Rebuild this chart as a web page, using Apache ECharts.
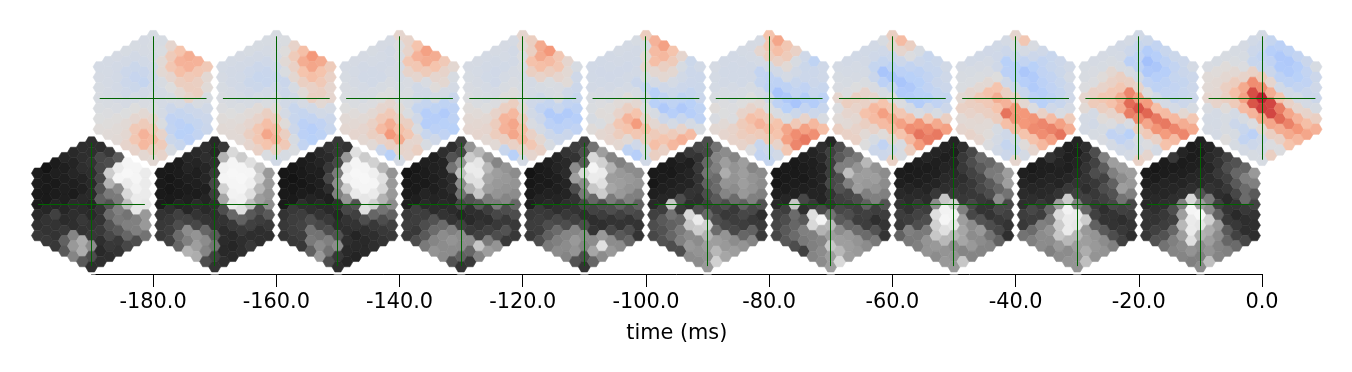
<!DOCTYPE html>
<html><head><meta charset="utf-8">
<style>html,body{margin:0;padding:0;background:#fff}#c{width:1352px;height:372px}</style>
<script src="https://cdn.jsdelivr.net/npm/echarts@6/dist/echarts.min.js"></script>
</head><body><div id="c"></div>
<script>
// Each map: 13 lattice columns, left to right, each top to bottom.
// Top row values: coolwarm scale, -100..100
const top1=[[-8,-7,-6,-5,-3,-1,2],[-8,-8,-8,-7,-5,-2,1,3],[-7,-9,-9,-9,-7,-4,1,3,4],[-6,-9,-14,-14,-12,-7,-1,4,6,9],[-6,-9,-15,-19,-15,-8,0,7,20,22,10],[-7,-7,-10,-16,-20,-10,-4,5,18,35,32,6],[-6,-6,-7,-10,-12,-10,-6,-3,8,20,30,15,5],[-6,-3,4,5,-5,-8,-8,-8,-3,10,18,10],[8,18,22,8,0,-6,-14,-24,-22,-15,-5],[25,35,28,15,5,-7,-20,-28,-30,-18],[38,35,20,15,10,-14,-20,-30,-28],[35,22,14,15,-5,-14,-20,-22],[20,5,3,-5,-10,-14,-16]];
const top2=[[-8,-7,-6,-4,-2,2,4],[-8,-9,-9,-7,-5,0,3,4],[-7,-9,-10,-10,-8,-3,2,5,4],[-6,-9,-13,-15,-11,-6,3,8,14,8],[-6,-9,-14,-18,-15,-8,3,10,22,22,12],[-6,-8,-12,-17,-18,-10,-3,14,28,42,25,-3],[-5,-5,-7,-12,-17,-12,-6,3,16,30,35,12,-10],[-3,1,4,-3,-16,-14,-10,-8,2,14,20,-6],[10,18,12,6,-6,-10,-18,-18,-14,-6,-3],[28,38,25,14,3,-7,-20,-28,-28,-22],[50,42,28,12,14,-10,-22,-32,-30],[40,25,20,14,5,-10,-24,-27],[18,12,8,8,-8,-14,-18]];
const top3=[[-7,-6,-4,-3,0,4,6],[-7,-8,-7,-5,-3,2,5,8],[-7,-9,-10,-8,-6,-2,4,8,6],[-6,-8,-10,-10,-6,-2,5,12,14,4],[-7,-8,-9,-10,-6,0,8,20,30,12,-16],[-7,-9,-9,-8,-5,-1,8,20,38,50,14,-30],[8,-2,-4,-7,-8,-6,-3,4,14,28,40,10,-8],[10,10,22,10,-4,-3,-6,-3,14,22,8,8],[25,35,22,8,-10,-10,-20,-12,-4,8,14],[45,38,18,-4,-10,-20,-33,-33,-18,-5],[38,25,8,2,-8,-25,-33,-28,-12],[20,10,6,-8,-25,-36,-30,-24],[6,-5,-8,-16,-26,-26,-30]];
const top4=[[-7,-6,-4,-2,2,5,7],[-7,-8,-7,-5,-3,3,6,8],[-8,-9,-10,-8,-6,-1,5,8,5],[-7,-9,-11,-11,-7,-2,10,16,16,4],[-7,-8,-10,-8,-5,1,14,34,35,14,-18],[-7,-9,-9,-7,-4,1,15,32,42,42,12,-30],[8,4,-2,-4,-7,-6,-3,4,16,28,32,10,-8],[15,14,26,14,-8,-8,-12,-10,-4,12,22,8],[40,40,28,10,-6,-12,-22,-14,-8,6,12],[50,30,15,-3,-6,-20,-36,-28,-14,-5],[22,22,8,-4,-4,-18,-36,-28,-14],[8,5,3,-12,-22,-36,-28,-16],[-6,-12,-14,-18,-26,-32,-24]];
const top5=[[-10,-10,-9,-5,-3,-6,2],[-10,-11,-10,-7,-2,2,-3,6],[-9,-10,-11,-9,-6,1,2,8,8],[-8,-9,-11,-10,-6,3,10,22,16,6],[-8,-9,-11,-9,-8,2,14,34,25,4,-25],[-6,-9,-10,-9,-16,-6,6,25,48,22,-12,-32],[16,-6,4,8,-5,-20,-10,-2,10,28,15,-5,-10],[35,30,28,6,-8,-30,-30,-6,6,18,28,14],[45,32,14,6,-12,-24,-38,-14,10,24,12],[25,18,6,-8,-15,-25,-32,-8,18,32],[8,-6,-10,-14,-25,-38,-18,10,36],[-15,-14,-14,-20,-30,-32,-8,30],[-10,-14,-15,-16,-25,-26,-5]];
const top6=[[-7,-8,-8,-5,2,-4,5],[-9,-10,-9,-6,-2,-1,4,8],[-9,-10,-10,-8,-6,-2,-2,10,10],[-8,-9,-10,-10,-6,0,10,18,16,10],[-7,-8,-10,-10,-6,0,10,28,22,14,-2],[-7,8,-8,-22,-20,-8,4,22,35,18,-18,-22],[25,22,16,-10,-24,-26,-12,-2,18,30,20,-14,-20],[42,28,12,-10,-26,-42,-26,-4,25,25,10,-10],[22,18,4,-8,-26,-38,-30,-5,42,45,22],[12,-5,-10,-18,-22,-42,-15,20,55,58],[-12,-15,-14,-24,-34,-22,10,45,64],[-25,-14,-14,-18,-34,-14,32,54],[-12,-12,-18,-26,-18,-5,28]];
const top7=[[-8,-6,-4,8,-2,3,14],[-9,-8,-6,-2,15,8,4,12],[-10,-8,-7,-1,14,10,6,10,12],[-10,-9,-8,-3,10,12,26,14,4,0],[-9,-12,-20,-16,-4,8,32,30,10,-6,-14],[-5,-12,-20,-42,-28,-6,25,46,30,2,-24,-14],[14,6,-14,-26,-40,-20,-2,22,40,30,6,-12,12],[30,8,-14,-28,-42,-36,-2,22,45,25,-5,-5],[14,-2,-22,-30,-38,-34,-8,28,55,32,16],[-6,-14,-26,-30,-30,-34,-4,52,66,48],[-18,-18,-22,-24,-30,-12,22,56,62],[-15,-18,-16,-20,-24,-5,40,64],[-10,-12,-14,-20,-14,14,45]];
const top8=[[-7,-5,-3,5,12,4,8],[-9,-6,-3,8,14,10,5,10],[-10,-7,-3,5,20,14,6,4,8],[-11,-8,-4,5,26,20,14,4,2,-2],[-10,-12,-12,0,25,38,25,16,-6,-8,-10],[-8,-14,-30,-28,-12,14,35,66,28,-12,-20,-14],[8,-5,-16,-30,-30,-14,12,50,52,30,-10,-18,8],[22,-8,-22,-40,-32,-18,6,50,50,25,2,-8],[-4,-14,-30,-36,-36,-28,-2,52,56,26,8],[-12,-22,-24,-28,-32,-30,12,58,55,32],[-18,-18,-22,-24,-26,-12,30,60,45],[-14,-15,-18,-20,-18,-4,45,66],[-10,-8,-12,-12,-8,18,38]];
const top9=[[-6,-5,-2,8,4,-8,-8],[-7,-4,-2,12,18,-8,-10,-6],[-7,-6,2,10,22,15,2,-6,-4],[-8,-5,6,12,22,26,10,-2,-24,-8],[-9,-8,-5,14,22,38,38,8,-15,-24,-10],[-8,-14,-28,-6,14,58,70,62,-4,-30,-16,-8],[-10,-18,-24,-26,-10,10,45,78,56,15,-6,-8,12],[-15,-34,-46,-38,-24,-2,48,72,42,20,-2,8],[-22,-32,-40,-32,-26,-10,28,64,52,12,-8],[-18,-26,-32,-26,-22,-8,30,64,48,26],[-15,-22,-20,-22,-20,-8,32,58,30],[-14,-16,-20,-18,-14,6,38,58],[-8,-14,-14,-14,-6,22,40]];
const top10=[[-4,3,4,8,-4,-8,-7],[-6,2,5,6,10,-8,-8,-8],[-5,2,6,14,14,2,-6,-5,1],[-6,-3,5,16,28,18,-8,-14,-6,-6],[-7,-6,-2,10,40,45,30,-6,-18,-22,-8],[-10,-14,-18,12,55,80,78,34,-2,-28,-14,-6],[-8,-14,-22,-18,18,55,92,84,42,6,-12,-8,-6],[-20,-32,-24,-16,8,38,82,82,42,14,-2,14],[-28,-38,-36,-26,-10,24,62,70,38,12,-2],[-26,-38,-36,-26,-10,12,42,60,40,25],[-22,-32,-30,-22,-8,8,34,50,32],[-16,-22,-24,-16,-8,10,28,42],[-6,-14,-12,-14,-6,14,36]];
// Bottom row values: brightness, 0..100
const bot1=[[11,11,10,11,16,19,22],[8,10,10,10,15,20,20,22],[11,12,10,11,14,25,20,20,22],[15,12,12,12,12,15,17,22,38,35],[16,14,15,12,11,17,18,18,52,60,52],[18,18,18,14,13,16,17,22,20,68,68,35],[18,18,20,18,16,16,14,16,20,22,55,30,18],[18,28,28,28,32,38,20,20,22,18,16,18],[22,30,80,70,48,32,42,32,28,22,18],[36,92,96,55,48,50,48,35,22,20],[96,97,92,85,75,45,50,40,28],[96,96,95,92,90,50,50,30],[92,92,92,90,60,60,45]];
const bot2=[[10,10,10,11,20,22,22],[10,9,9,10,18,22,24,25],[11,11,10,10,14,25,30,42,40],[15,14,12,11,12,15,26,55,50,70],[16,14,12,12,11,17,20,28,58,62,68],[18,18,15,15,12,14,16,20,40,55,52,30],[16,15,18,22,28,24,18,18,20,35,45,25,20],[22,70,95,96,82,65,30,20,17,17,16,18],[85,96,97,96,95,92,40,22,16,15,16],[80,96,97,96,94,88,38,22,18,18],[88,96,94,88,75,35,25,18,22],[78,82,72,62,30,24,18,18],[60,60,58,55,35,22,18]];
const bot3=[[9,9,10,10,20,22,20],[9,8,9,10,22,24,24,22],[11,10,9,11,18,24,26,24,22],[12,12,11,10,14,18,30,45,48,38],[16,14,12,12,12,16,20,28,45,55,60],[20,17,22,28,18,12,16,22,30,50,45,30],[22,22,28,48,55,50,18,15,18,32,55,22,18],[20,60,92,95,80,58,28,20,18,18,16,15],[88,96,97,96,92,32,25,20,14,16,14],[80,96,97,96,90,88,30,18,16,16],[82,94,96,92,82,40,22,18,18],[72,88,85,70,45,30,22,20],[58,60,60,55,38,25,22]];
const bot4=[[8,9,10,12,22,24,22],[9,10,10,12,24,24,22,30],[12,11,10,14,16,24,30,35,48],[12,13,12,12,14,17,32,42,52,58],[18,14,14,14,14,16,20,42,55,55,55],[18,32,45,18,18,15,17,20,50,58,55,32],[25,28,58,75,55,45,28,15,25,55,55,38,20],[58,80,92,88,70,32,18,16,22,55,40,22],[72,90,92,88,78,35,18,20,25,78,52],[60,72,65,62,48,24,18,25,48,62],[52,62,60,58,48,28,22,30,58],[58,60,58,52,30,22,32,22],[55,58,55,40,30,22,22]];
const bot5=[[8,9,10,12,22,24,22],[10,10,11,14,22,24,24,30],[12,11,10,13,16,22,30,38,48],[14,14,12,12,14,18,28,42,50,55],[20,16,17,14,14,18,22,30,52,55,52],[24,20,55,62,30,20,20,25,52,60,58,32],[25,30,35,85,55,48,28,18,30,55,52,30,20],[45,85,96,92,78,40,26,18,20,55,65,40],[62,82,92,88,80,30,24,18,60,88,55],[52,70,62,65,48,30,20,28,55,60],[50,60,62,60,38,25,20,35,55],[55,60,58,50,30,20,30,40],[55,58,50,38,28,20,20]];
const bot6=[[10,9,12,16,25,30,28],[10,11,12,15,24,35,32,32],[11,10,12,14,78,45,38,40,30],[15,12,13,14,30,22,40,48,50,30],[22,12,14,14,20,18,85,78,55,60,55],[28,20,22,20,20,18,30,92,80,55,58,55],[30,28,40,45,38,30,25,40,82,70,62,58,60],[45,52,50,42,42,35,25,30,42,62,72,82],[55,62,68,58,52,30,22,28,58,60,65],[52,58,58,55,42,22,24,28,55,62],[62,62,62,60,38,28,24,40,58],[52,58,58,50,28,22,38,52],[55,55,50,32,18,22,22]];
const bot7=[[9,9,12,16,26,28,28],[10,10,11,15,24,30,35,35],[10,10,11,13,78,42,40,42,30],[12,11,10,12,28,18,35,50,48,25],[14,12,12,12,14,22,88,85,50,50,52],[18,16,14,14,14,14,28,96,70,52,55,55],[15,25,24,24,28,20,20,45,72,62,78,62,62],[30,35,50,30,32,25,28,35,55,62,72,85],[40,50,75,50,28,25,30,40,60,62,62],[48,58,62,62,30,24,24,42,58,60],[72,62,60,50,38,25,24,42,55],[58,62,58,50,24,18,32,48],[55,55,50,32,24,20,20]];
const bot8=[[11,12,16,20,24,22,38],[10,11,14,17,19,24,50,48],[12,11,12,16,22,26,30,48,50],[14,11,12,14,17,24,30,48,58,58],[14,12,12,14,22,55,88,82,78,60,55],[14,12,14,16,18,78,95,96,88,72,58,60],[14,12,14,16,18,22,82,95,90,72,55,58,60],[18,22,22,18,20,22,50,62,65,65,52,78],[28,30,26,22,22,28,28,55,55,60,52],[42,35,28,28,22,20,32,60,55,52],[40,48,35,30,20,20,30,45,52],[48,50,40,55,28,22,28,38],[62,62,45,28,25,20,18]];
const bot9=[[12,14,17,18,24,22,45],[10,12,15,18,28,24,42,50],[12,12,14,16,22,24,50,55,55],[20,12,14,16,18,40,48,58,55,50],[16,14,13,14,20,62,86,80,78,60,55],[12,12,12,15,22,80,95,92,92,72,55,58],[14,12,14,16,20,25,50,92,90,72,62,58,58],[18,18,20,20,18,25,40,80,60,62,68,75],[30,26,30,22,22,22,25,38,58,60,58],[50,36,26,30,25,18,20,35,55,58],[62,50,38,32,28,20,20,30,50],[62,55,62,45,25,18,22,25],[62,60,50,28,24,20,18]];
const bot10=[[10,12,15,16,20,20,22],[9,11,14,16,18,20,25,32],[11,11,14,15,18,22,24,32,45],[22,11,13,15,18,30,25,40,50,52],[14,11,12,14,18,50,62,72,62,55,52],[11,11,12,15,18,85,96,92,92,88,58,50],[13,11,12,15,16,32,62,97,90,70,55,50,55],[14,16,15,17,20,48,55,82,68,62,58,75],[18,20,22,18,18,25,38,60,55,52,52],[26,30,25,22,16,20,22,35,40,50],[32,40,35,28,20,16,22,26,42],[40,50,42,42,22,18,18,28],[60,50,35,26,20,18,18]];
const topMaps=[top1,top2,top3,top4,top5,top6,top7,top8,top9,top10];
const botMaps=[bot1,bot2,bot3,bot4,bot5,bot6,bot7,bot8,bot9,bot10];
const topTimes=[-180,-160,-140,-120,-100,-80,-60,-40,-20,0];
const botTimes=[-190,-170,-150,-130,-110,-90,-70,-50,-30,-10];
const tickValues=topTimes;
const axisName='time (ms)';

// lattice geometry in axis units (x: ms, y: one unit per pixel)
const PX=1170.5/190, STEP_X=9.0/PX, STEP_Y=10.4, RAD_X=6.05/PX, RAD_Y=5.95;
const LEVEL_TOP=176, LEVEL_BOT=69.6;
const CROSS_H=53.4/PX, CROSS_V=61.7;
const coolwarm=['#3b4cc0','#6282ea','#8db0fe','#b8d0f9','#dddddd','#f5c4ad','#f4987a','#de604d','#b40426'];
const grays=['#000000','#ffffff'];
const coolColor=v=>echarts.color.lerp(((v<0?v*0.8:v)+100)/200,coolwarm);
const grayColor=v=>echarts.color.lerp(v/100,grays);
const crisp=n=>Math.round(n-0.5)+0.5;

function flatten(maps,times,level){
  const out=[];
  maps.forEach((m,i)=>{
    if(m.length!==13) throw new Error('cols '+level+' '+i);
    m.forEach((col,c)=>{
      const k=c-6,n=13-Math.abs(k);
      if(col.length!==n) throw new Error('map level '+level+' idx '+i+' col '+c+' len '+col.length);
      col.forEach((v,j)=>out.push([times[i]+k*STEP_X, level+((n-1)/2-j)*STEP_Y, v]));
    });
  });
  return out;
}
function hexPts(api,x,y){
  const p=[];
  for(let a=0;a<6;a++){
    const t=a*Math.PI/3;
    p.push(api.coord([x+RAD_X*Math.cos(t),y+RAD_Y*Math.sin(t)]));
  }
  return p;
}
function cellSeries(data,fill,lw){
  return {type:'custom',coordinateSystem:'cartesian2d',clip:false,silent:true,data,
    encode:{x:0,y:1},
    renderItem(params,api){
      const v=api.value(2),c=fill(v);
      return {type:'polygon',shape:{points:hexPts(api,api.value(0),api.value(1))},
        style:{fill:c,stroke:c,lineWidth:lw,lineJoin:'round'}};
    }};
}
function crossSeries(times,level){
  return {type:'custom',coordinateSystem:'cartesian2d',clip:false,silent:true,
    data:times.map(t=>[t,level]),encode:{x:0,y:1},
    renderItem(params,api){
      const x=api.value(0),y=api.value(1);
      const a=api.coord([x-CROSS_H,y]),b=api.coord([x+CROSS_H,y]);
      const c=api.coord([x,y+CROSS_V]),d=api.coord([x,y-CROSS_V]);
      const st={stroke:'#006400',lineWidth:1,fill:null};
      return {type:'group',children:[
        {type:'line',shape:{x1:a[0],y1:crisp(a[1]),x2:b[0],y2:crisp(b[1])},style:st},
        {type:'line',shape:{x1:crisp(c[0]),y1:c[1],x2:crisp(d[0]),y2:d[1]},style:st}]};
    }};
}
const topData=flatten(topMaps,topTimes,LEVEL_TOP);
const botData=flatten(botMaps,botTimes,LEVEL_BOT);
const chart=echarts.init(document.getElementById('c'),null,{renderer:'canvas'});
chart.setOption({
  animation:false,backgroundColor:'#ffffff',
  grid:{left:91.5,right:90,top:0,bottom:98},
  xAxis:{type:'value',min:-190,max:0,splitLine:{show:false},
    name:axisName,nameLocation:'middle',nameGap:49,
    nameTextStyle:{fontFamily:'DejaVu Sans',fontSize:20.83,color:'#000'},
    axisLine:{show:true,onZero:false,lineStyle:{color:'#000',width:1}},
    axisTick:{show:true,length:13,customValues:tickValues,lineStyle:{color:'#000',width:1}},
    axisLabel:{show:true,margin:18,fontFamily:'DejaVu Sans',fontSize:20.83,color:'#000',customValues:tickValues,
      showMinLabel:true,showMaxLabel:true,hideOverlap:false,formatter:v=>Number(v).toFixed(1)}},
  yAxis:{type:'value',min:0,max:274,show:false},
  tooltip:{show:false},
  series:[
    cellSeries(topData,coolColor,0.6),
    cellSeries(botData,()=>'#ffffff',5),
    crossSeries(topTimes,LEVEL_TOP),
    cellSeries(botData,grayColor,0.6),
    crossSeries(botTimes,LEVEL_BOT)
  ]
});
</script></body></html>
